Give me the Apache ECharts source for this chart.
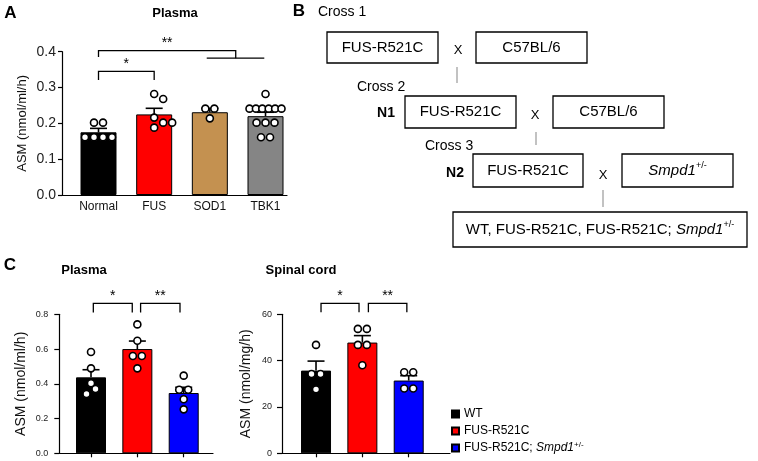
<!DOCTYPE html>
<html><head><meta charset="utf-8">
<script src="https://cdn.jsdelivr.net/npm/echarts@6/dist/echarts.min.js"></script>
<style>html,body{margin:0;padding:0;background:#fff}#c{width:758px;height:461px}</style>
</head><body><div id="c"></div>
<script>
// ---------- Panel A data ----------
const catsA = ['Normal', 'FUS', 'SOD1', 'TBK1'];
const meanA = [0.175, 0.225, 0.231, 0.220];
const semA = [0.011, 0.017, 0.011, 0.011];
const dotsNormal = [0.202, 0.202, 0.161, 0.161, 0.161, 0.161];
const dotsFUS = [0.282, 0.268, 0.216, 0.202, 0.202, 0.188];
const dotsSOD1 = [0.241, 0.241, 0.214];
const dotsTBK1 = [0.282, 0.241, 0.241, 0.241, 0.241, 0.241, 0.241, 0.202, 0.202, 0.202, 0.161, 0.161];
const ticksA = [0, 0.1, 0.2, 0.3, 0.4];
// brackets: [fromX, toX, lineY, leftEndY, rightEndY]
const bracketsA = [[0, 1, 0.345, 0.321, 0.321], [0, 2.465, 0.403, 0.385, 0.382], [1.944, 2.978, 0.382, 0.382, 0.382]];
const sigA = ['*', '**', ''];

// ---------- Panel C data ----------
const groupsC = ['WT', 'FUS-R521C', 'FUS-R521C; Smpd1+/-'];
const plasmaMean = [0.437, 0.600, 0.347];
const plasmaSem = [0.044, 0.046, 0.033];
const plasmaWT = [0.583, 0.489, 0.403, 0.370, 0.341];
const plasmaFUS = [0.742, 0.648, 0.560, 0.560, 0.489];
const plasmaSmpd = [0.447, 0.366, 0.366, 0.311, 0.253];
const ticksPlasma = [0, 0.2, 0.4, 0.6, 0.8];
const bracketsPlasma = [[0.05, 0.89, 0.863, 0.811, 0.811], [1.07, 1.92, 0.863, 0.811, 0.811]];
const spinalMean = [35.7, 47.8, 31.4];
const spinalSem = [4.1, 3.0, 2.1];
const spinalWT = [46.8, 34.2, 34.2, 27.6];
const spinalFUS = [53.7, 53.7, 46.8, 46.8, 38.0];
const spinalSmpd = [35.0, 35.0, 28.0, 28.0];
const ticksSpinal = [0, 20, 40, 60];
const bracketsSpinal = [[0.108, 0.928, 64.7, 60.9, 60.9], [1.13, 1.96, 64.7, 60.9, 60.9]];
const sigC = ['*', '**'];

const colorsA = ['#000000', '#ff0000', '#c49150', '#858585'];
const colorsC = ['#000000', '#ff0000', '#0000ff'];
const FONT = '"Liberation Sans", Arial, sans-serif';

// ---------- helpers ----------
function swarm(values, k, spacing, maxW) {
  const order = values.map((v, i) => i).sort((a, b) => values[b] - values[a]);
  const rows = [];
  order.forEach(i => {
    const v = values[i];
    let r = rows.find(r => Math.abs(r.v - v) < 1e-9);
    if (!r) { r = { v, idx: [] }; rows.push(r); }
    r.idx.push(i);
  });
  const placed = [], off = new Array(values.length).fill(0), d = 7;
  rows.forEach(r => {
    const n = r.idx.length;
    const s = n > 1 ? Math.min(spacing, maxW / (n - 1)) : 0;
    const base = r.idx.map((_, j) => (j - (n - 1) / 2) * s);
    const cands = [0, 4.5, -4.5, 9, -9, 13.5, -13.5];
    let shift = 0;
    for (const c of cands) {
      const ok = base.every(b => placed.every(p => Math.hypot(b + c - p.x, (r.v - p.v) * k) >= d - 0.01));
      if (ok) { shift = c; break; }
    }
    r.idx.forEach((i, j) => { off[i] = base[j] + shift; placed.push({ x: off[i], v: r.v }); });
  });
  return off;
}
function dotSeries(groups, k, axis) {
  const data = [];
  groups.forEach((vals, gi) => {
    const off = swarm(vals, k, 9, 32);
    vals.forEach((v, j) => data.push({ value: [gi, v], symbolOffset: [off[j], 0] }));
  });
  return {
    type: 'scatter', xAxisIndex: axis, yAxisIndex: axis, data, symbol: 'circle', symbolSize: 7,
    itemStyle: { color: '#fff', borderColor: '#000', borderWidth: 1.6, opacity: 1 }, z: 5, silent: true
  };
}
function errSeries(means, sems, axis) {
  return {
    type: 'custom', xAxisIndex: axis, yAxisIndex: axis, z: 4, silent: true,
    data: means.map((m, i) => [i, m, sems[i]]), encode: { x: 0, y: 1 },
    renderItem: (params, api) => {
      const x = api.value(0), m = api.value(1), e = api.value(2);
      const p0 = api.coord([x, m]), p1 = api.coord([x, m + e]);
      const st = { stroke: '#000', lineWidth: 1.6 };
      return { type: 'group', children: [
        { type: 'line', shape: { x1: p0[0], y1: p0[1], x2: p1[0], y2: p1[1] }, style: st },
        { type: 'line', shape: { x1: p1[0] - 8.5, y1: p1[1], x2: p1[0] + 8.5, y2: p1[1] }, style: st }
      ] };
    }
  };
}
function bracketSeries(brackets, labels, axis) {
  return {
    type: 'custom', xAxisIndex: axis, yAxisIndex: axis, z: 6, silent: true, clip: false,
    data: brackets, encode: { x: 0, y: 2 },
    renderItem: (params, api) => {
      const b = brackets[params.dataIndex];
      const a = api.coord([b[0], b[3]]), c = api.coord([b[0], b[2]]);
      const d = api.coord([b[1], b[2]]), e = api.coord([b[1], b[4]]);
      const kids = [{ type: 'polyline', shape: { points: [a, c, d, e] }, style: { stroke: '#000', fill: null, lineWidth: 1.3 } }];
      const lab = labels[params.dataIndex];
      if (lab) kids.push({ type: 'text', x: (c[0] + d[0]) / 2, y: c[1] - 7,
        style: { text: lab, textAlign: 'center', textVerticalAlign: 'middle', font: '14px ' + FONT, fill: '#000' } });
      return { type: 'group', children: kids };
    }
  };
}
const axisLineStyle = { color: '#000', width: 1.2 };
function yAx(idx, ticks, dec, labelSize, margin, tickLen, name, nameGap, nameSize) {
  return {
    gridIndex: idx, type: 'value', min: ticks[0], max: ticks[ticks.length - 1], interval: ticks[1] - ticks[0],
    axisLine: { show: true, onZero: false, lineStyle: axisLineStyle },
    axisTick: { show: true, length: tickLen, lineStyle: axisLineStyle },
    axisLabel: { fontSize: labelSize, margin, color: '#222', fontFamily: FONT, formatter: v => v.toFixed(dec) },
    splitLine: { show: false },
    name, nameLocation: 'middle', nameGap, nameTextStyle: { fontSize: nameSize, fontFamily: FONT, color: '#111' }
  };
}

const richSup = {
  n: { fontSize: 15, fontFamily: FONT, fill: '#000', lineHeight: 18 },
  i: { fontSize: 15, fontFamily: FONT, fontStyle: 'italic', fill: '#000', lineHeight: 18 },
  s: { fontSize: 9, fontFamily: FONT, fill: '#000', verticalAlign: 'top', lineHeight: 18 }
};
function txt(x, y, text, font, align) {
  return { type: 'text', x, y, style: { text, font: font + ' ' + FONT, fill: '#000', textAlign: align || 'center', textVerticalAlign: 'middle' } };
}
function rtxt(x, y, text) {
  return { type: 'text', x, y, style: { text, textAlign: 'center', textVerticalAlign: 'middle', rich: richSup, font: '15px ' + FONT } };
}
function box(x, y, w, h) {
  return { type: 'rect', shape: { x, y, width: w, height: h }, style: { fill: '#fff', stroke: '#000', lineWidth: 1.3 } };
}
function vline(x, y1, y2) {
  return { type: 'line', shape: { x1: x, y1, x2: x, y2 }, style: { stroke: '#999', lineWidth: 1.2 } };
}

const graphics = [
  txt(10.5, 13, 'A', 'bold 17px'), txt(175, 13, 'Plasma', 'bold 13px'),
  txt(299, 11, 'B', 'bold 17px'), txt(318, 12, 'Cross 1', '14px', 'left'),
  box(327, 32, 111, 31), txt(382.5, 47.5, 'FUS-R521C', '15px'),
  txt(458, 50, 'X', '13px'),
  box(476, 32, 111, 31), txt(531.5, 47.5, 'C57BL/6', '15px'),
  vline(457, 67, 83),
  txt(357, 87, 'Cross 2', '14px', 'left'),
  txt(386, 113, 'N1', 'bold 14px'),
  box(405, 96, 111, 32), txt(460.5, 112, 'FUS-R521C', '15px'),
  txt(535, 115, 'X', '13px'),
  box(553, 96, 111, 32), txt(608.5, 112, 'C57BL/6', '15px'),
  vline(536, 132, 145),
  txt(425, 146, 'Cross 3', '14px', 'left'),
  txt(455, 173, 'N2', 'bold 14px'),
  box(473, 154, 110, 33), txt(528, 170.5, 'FUS-R521C', '15px'),
  txt(603, 175, 'X', '13px'),
  box(622, 154, 111, 33), rtxt(677.5, 170.5, '{i|Smpd1}{s|+/-}'),
  vline(603, 190, 207),
  box(453, 212, 294, 35), rtxt(600, 229.5, '{n|WT, FUS-R521C, FUS-R521C; }{i|Smpd1}{s|+/-}'),
  txt(10, 265, 'C', 'bold 17px'),
  txt(84, 270, 'Plasma', 'bold 13px'),
  txt(301, 270, 'Spinal cord', 'bold 13px')
];

const series = [];
// Panel A bars
series.push({
  type: 'bar', xAxisIndex: 0, yAxisIndex: 0, barWidth: 36, silent: true,
  data: meanA.map((m, i) => ({ value: [i, m], itemStyle: { color: colorsA[i] } })),
  itemStyle: { borderColor: '#000', borderWidth: 1 }
});
series.push(errSeries(meanA, semA, 0));
series.push(dotSeries([dotsNormal, dotsFUS, dotsSOD1, dotsTBK1], 143.3 / 0.4, 0));
series.push(bracketSeries(bracketsA, sigA, 0));
// Panel C bars
groupsC.forEach((g, gi) => {
  series.push({ type: 'bar', name: g, xAxisIndex: 1, yAxisIndex: 1, barWidth: 30, barGap: '-100%', silent: true,
    data: [[gi, plasmaMean[gi]]], itemStyle: { color: colorsC[gi], borderColor: '#000', borderWidth: 1 } });
  series.push({ type: 'bar', name: g, xAxisIndex: 2, yAxisIndex: 2, barWidth: 30, barGap: '-100%', silent: true,
    data: [[gi, spinalMean[gi]]], itemStyle: { color: colorsC[gi], borderColor: '#000', borderWidth: 1 } });
});
series.push(errSeries(plasmaMean, plasmaSem, 1));
series.push(errSeries(spinalMean, spinalSem, 2));
series.push(dotSeries([plasmaWT, plasmaFUS, plasmaSmpd], 139 / 0.8, 1));
series.push(dotSeries([spinalWT, spinalFUS, spinalSmpd], 139 / 60, 2));
series.push(bracketSeries(bracketsPlasma, sigC, 1));
series.push(bracketSeries(bracketsSpinal, sigC, 2));

const option = {
  animation: false,
  backgroundColor: '#fff',
  textStyle: { fontFamily: FONT },
  grid: [
    { left: 62, top: 51.7, width: 225, height: 143.3 },
    { left: 59.3, top: 314.3, width: 153.7, height: 139 },
    { left: 282, top: 314.3, width: 168, height: 139 }
  ],
  xAxis: [
    { gridIndex: 0, type: 'value', min: -0.6557, max: 3.386,
      axisLine: { onZero: false, lineStyle: axisLineStyle }, axisTick: { show: false }, splitLine: { show: false },
      axisLabel: { customValues: [0, 1, 2, 3], formatter: v => catsA[Math.round(v)], fontSize: 12, margin: 6, color: '#111', fontFamily: FONT } },
    { gridIndex: 1, type: 'value', min: -0.684, max: 2.632,
      axisLine: { onZero: false, lineStyle: axisLineStyle }, axisTick: { show: true, length: 4, customValues: [0, 1, 2], lineStyle: axisLineStyle },
      splitLine: { show: false }, axisLabel: { show: false } },
    { gridIndex: 2, type: 'value', min: -0.734, max: 2.891,
      axisLine: { onZero: false, lineStyle: axisLineStyle }, axisTick: { show: true, length: 4, customValues: [0, 1, 2], lineStyle: axisLineStyle },
      splitLine: { show: false }, axisLabel: { show: false } }
  ],
  yAxis: [
    yAx(0, ticksA, 1, 14, 6, 4, 'ASM (nmol/ml/h)', 33, 13),
    yAx(1, ticksPlasma, 1, 9, 11, 5, 'ASM (nmol/ml/h)', 31, 14),
    yAx(2, ticksSpinal, 0, 9, 10, 5, 'ASM (nmol/mg/h)', 29, 14)
  ],
  legend: {
    orient: 'vertical', left: 451, top: 407, padding: 0, itemWidth: 7, itemHeight: 7, itemGap: 3,
    data: groupsC, selectedMode: false, icon: 'rect',
    formatter: n => n.indexOf('Smpd1') >= 0 ? '{n|FUS-R521C; }{i|Smpd1}{s|+/-}' : n,
    textStyle: { fontSize: 12, lineHeight: 14, fontFamily: FONT, color: '#000',
      rich: { n: { fontSize: 12, fontFamily: FONT }, i: { fontSize: 12, fontStyle: 'italic', fontFamily: FONT },
        s: { fontSize: 8, fontFamily: FONT, verticalAlign: 'top' } } }
  },
  graphic: graphics,
  series
};
const chart = echarts.init(document.getElementById('c'), null, { renderer: 'canvas' });
chart.setOption(option);
</script></body></html>
